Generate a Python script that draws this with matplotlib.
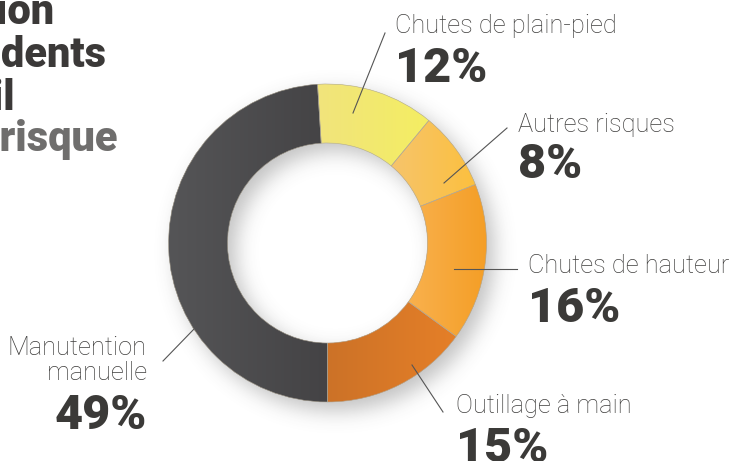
import numpy as np
import matplotlib
matplotlib.use("Agg")
import matplotlib.pyplot as plt
from matplotlib.patches import Wedge
from matplotlib.colors import LinearSegmentedColormap

# ---------------- data ----------------
categories = ["Chutes de plain-pied", "Autres risques", "Chutes de hauteur",
              "Outillage à main", "Manutention\nmanuelle"]
values = [12, 8, 16, 15, 49]
value_labels = ["12%", "8%", "16%", "15%", "49%"]
colors_left = ["#F1E47C", "#F6C46C", "#F9B14E", "#CC7228", "#555557"]
colors_right = ["#F4EE62", "#FCC03E", "#F49E26", "#E57F27", "#444345"]
title_lines = ["Répartition", "des accidents", "du travail", "par risque"]

# ---------------- layout (pixels from top-left) ----------------
W, H = 731, 461
fig = plt.figure(figsize=(W / 100, H / 100), dpi=100)
ax = fig.add_axes([0, 0, 1, 1])


def Y(y):
    return H - y


cx, cy = 327.5, Y(243)
R, r = 159, 100

# soft drop shadow
rows, cols = np.mgrid[0:H, 0:W] + 0.5
sx, sy = cx + 8, cy - 9
d = np.hypot(cols - sx, (H - rows) - sy)
mask = ((d <= R) & (d >= r)).astype(float)
sig = 10.0
fy = np.fft.fftfreq(H)[:, None]
fx = np.fft.fftfreq(W)[None, :]
blur = np.real(np.fft.ifft2(np.fft.fft2(mask) * np.exp(-2 * (np.pi * sig) ** 2 * (fx ** 2 + fy ** 2))))
blur = np.clip(blur, 0, 1)
shadow = np.zeros((H, W, 4))
shadow[..., :3] = 0.3
shadow[..., 3] = 0.34 * blur
ax.imshow(shadow, extent=[0, W, 0, H], origin="upper", zorder=0, aspect="auto")

start = -90 + 360 * sum(values[:-1]) / sum(values)
wedges, _ = ax.pie(values, colors=colors_right, startangle=start, counterclock=False,
                   radius=R, center=(cx, cy), frame=True,
                   wedgeprops=dict(width=R - r, edgecolor="none"))
for w, cl, cr in zip(wedges, colors_left, colors_right):
    w.set_zorder(2)
    ext = w.get_path().get_extents()
    cmap = LinearSegmentedColormap.from_list("g", [cl, cr])
    grad = np.linspace(0, 1, 256)[None, :]
    im = ax.imshow(grad, cmap=cmap, extent=[ext.x0, ext.x1, ext.y0, ext.y1],
                   aspect="auto", zorder=3)
    im.set_clip_path(w)
    sep = Wedge((cx, cy), R, w.theta1, w.theta2, width=R - r,
                facecolor="none", edgecolor="#b0a99a", lw=0.4, zorder=4)
    ax.add_patch(sep)

ax.set_xlim(0, W)
ax.set_ylim(0, H)
ax.set_aspect("auto")
ax.axis("off")

label_font = dict(family=["Roboto", "DejaVu Sans"], fontweight="light", color="#3f3e3d", fontsize=18.3)
num_font = dict(family=["Roboto", "DejaVu Sans"], fontweight="black", color="#3b3a38", fontsize=35)
line_kw = dict(color="#555555", lw=0.8, zorder=5)

# label anchors: (label x, label baseline, number baseline, ha, leader start, leader end)
layout = [
    (395, 33, 82, "left", (353, 113), (385, 33)),
    (518, 132, 178, "left", (444, 183), (507, 128)),
    (528, 273, 322, "left", (454, 269), (517, 269)),
    (456, 413, 462, "left", (412, 365), (443, 412)),
    (147, 380, 429, "right", (195, 328), (163, 361)),
]
for cat, vl, (lx, lb, nb, ha, p0, p1) in zip(categories, value_labels, layout):
    ax.text(lx, Y(lb), cat, ha=ha, va="baseline", multialignment="right",
            linespacing=1.05, **label_font)
    ax.text(lx, Y(nb), vl, ha=ha, va="baseline", **num_font)
    ax.plot([p0[0], p1[0]], [Y(p0[1]), Y(p1[1])], **line_kw)

# title (partly outside the canvas on the left)
title_ends = [55, 106, 15, 117]
title_base = [24, 67, 110, 151]
title_cols = ["#3b3938", "#3b3938", "#3b3938", "#6f6e6d"]
for t, xe, yb, c in zip(title_lines, title_ends, title_base, title_cols):
    ax.text(xe, Y(yb), t, ha="right", va="baseline", color=c, fontsize=30,
            family=["Roboto", "DejaVu Sans"], fontweight="black")

fig.savefig("out.png", dpi=100)
